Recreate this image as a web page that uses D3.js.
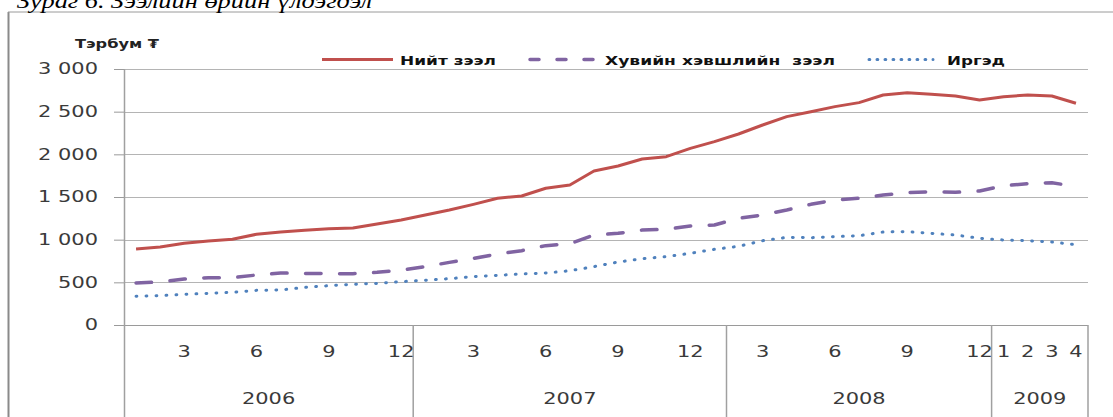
<!DOCTYPE html>
<html>
<head>
<meta charset="utf-8">
<script src="https://cdn.jsdelivr.net/npm/d3@7"></script>
<style>
  html, body { margin: 0; padding: 0; background: #fff; }
  svg { display: block; }
  text { white-space: pre; }
</style>
</head>
<body>
<svg id="chart" width="1113" height="417"></svg>
<script>
// ---------------- DATA ----------------
const titleText = "Зураг 6. Зээлийн өрийн үлдэгдэл";
const unitLabel = "Тэрбум ₮";
const seriesNames = ["Нийт зээл", "Хувийн хэвшлийн  зээл", "Иргэд"];

// 40 monthly categories, Jan 2006 – Apr 2009
const monthLabels = [
  "", "", "3", "", "", "6", "", "", "9", "", "", "12",
  "", "", "3", "", "", "6", "", "", "9", "", "", "12",
  "", "", "3", "", "", "6", "", "", "9", "", "", "12",
  "1", "2", "3", "4"
];
const yearLabels = ["2006", "2007", "2008", "2009"];
const yearSpans = [12, 13, 11, 4];   // categories per year band as drawn

const totalLoans = [
  890, 914, 957, 984, 1004, 1063, 1090, 1110, 1129, 1137, 1184, 1231,
  1289, 1348, 1414, 1485, 1512, 1602, 1641, 1805, 1863, 1945, 1973, 2070,
  2149, 2238, 2344, 2442, 2500, 2559, 2606, 2695, 2723, 2703, 2684, 2637,
  2676, 2695, 2684, 2598
];
const privateLoans = [
  492, 504, 539, 555, 555, 586, 609, 605, 602, 602, 617, 644,
  684, 734, 781, 832, 871, 930, 953, 1055, 1074, 1113, 1121, 1160,
  1172, 1250, 1289, 1348, 1414, 1465, 1485, 1523, 1551, 1562, 1555, 1570,
  1633, 1656, 1668, 1621
];
const householdLoans = [
  336, 344, 359, 371, 383, 406, 410, 441, 461, 477, 488, 508,
  524, 543, 567, 582, 598, 609, 636, 684, 738, 777, 801, 840,
  887, 922, 988, 1027, 1023, 1035, 1047, 1090, 1094, 1074, 1055, 1016,
  996, 988, 973, 941
];
const yTicks = [0, 500, 1000, 1500, 2000, 2500, 3000];

// ---------------- CHART ----------------
const svg = d3.select("#chart");
const pLeft = 124, pRight = 1088, pTop = 69, pBottom = 325;
const fontFam = "'DejaVu Sans', Verdana, sans-serif";

function stretch(sel, k) {
  sel.each(function () {
    const w = this.getComputedTextLength();
    this.setAttribute("textLength", w * k);
    this.setAttribute("lengthAdjust", "spacingAndGlyphs");
  });
}

const x = d3.scaleBand().domain(d3.range(monthLabels.length)).range([pLeft, pRight]).padding(0);
const y = d3.scaleLinear().domain([0, 3000]).range([pBottom, pTop]);
const cx = i => x(i) + x.bandwidth() / 2;

// frame
svg.append("line").attr("x1", 8.5).attr("x2", 8.5).attr("y1", 12).attr("y2", 417)
  .attr("stroke", "#8a8a8a").attr("stroke-width", 2);
svg.append("line").attr("x1", 8).attr("x2", 1113).attr("y1", 12).attr("y2", 12)
  .attr("stroke", "#9a9a9a").attr("stroke-width", 1);

// title (cut off at the top)
svg.append("text").attr("x", 17).attr("y", 8)
  .attr("font-family", "'Liberation Serif', 'Times New Roman', serif")
  .attr("font-style", "italic").attr("font-size", 22).attr("fill", "#000")
  .text(titleText)
  .attr("textLength", 355).attr("lengthAdjust", "spacingAndGlyphs");

// gridlines
svg.append("g").selectAll("line").data(yTicks.filter(d => d > 0)).join("line")
  .attr("x1", pLeft).attr("x2", pRight)
  .attr("y1", d => Math.round(y(d)) + 0.5).attr("y2", d => Math.round(y(d)) + 0.5)
  .attr("stroke", "#b4b4b4").attr("stroke-width", 1);

// y axis
const yAxis = svg.append("g").attr("transform", `translate(${pLeft},0)`)
  .call(d3.axisLeft(y).tickValues(yTicks).tickSize(10).tickPadding(16)
    .tickFormat(d => d3.format(",")(d).replace(/,/g, " ")));
yAxis.select(".domain").remove();
yAxis.selectAll(".tick line").attr("stroke", "#9a9a9a");
yAxis.selectAll(".tick text").attr("font-family", fontFam).attr("font-size", 15.5)
  .attr("fill", "#3a3a3a").call(stretch, 1.35);

// x axis line (0 line) and vertical axis
svg.append("line").attr("x1", pLeft).attr("x2", pRight)
  .attr("y1", Math.round(y(0)) + 0.5).attr("y2", Math.round(y(0)) + 0.5)
  .attr("stroke", "#9a9a9a");
svg.append("line").attr("x1", pLeft + 0.5).attr("x2", pLeft + 0.5).attr("y1", pTop).attr("y2", 417)
  .attr("stroke", "#a0a0a0").attr("stroke-width", 1.5);

// year separators
let acc = 0;
const bounds = yearSpans.map(s => { acc += s; return acc; });
svg.append("g").selectAll("line").data(bounds).join("line")
  .attr("x1", d => x(d - 1) + x.bandwidth()).attr("x2", d => x(d - 1) + x.bandwidth())
  .attr("y1", y(0)).attr("y2", 417)
  .attr("stroke", "#a0a0a0").attr("stroke-width", 1.5);

// month labels
svg.append("g").selectAll("text").data(monthLabels).join("text")
  .attr("x", (d, i) => cx(i)).attr("y", 357).attr("text-anchor", "middle")
  .attr("font-family", fontFam).attr("font-size", 15.5).attr("fill", "#3a3a3a")
  .text(d => d)
  .filter(d => d !== "").call(stretch, 1.35);

// year labels
let start = 0;
const yearPos = yearSpans.map(s => { const a = start; start += s; return [a, start]; });
svg.append("g").selectAll("text").data(yearLabels).join("text")
  .attr("x", (d, i) => (x(yearPos[i][0]) + x(yearPos[i][1] - 1) + x.bandwidth()) / 2)
  .attr("y", 404).attr("text-anchor", "middle")
  .attr("font-family", fontFam).attr("font-size", 15.5).attr("fill", "#3a3a3a")
  .text(d => d).call(stretch, 1.35);

// series
const series = [
  { name: seriesNames[0], values: totalLoans, color: "#C0504D", width: 3, dash: null, legDash: null },
  { name: seriesNames[1], values: privateLoans, color: "#8064A2", width: 3.5, dash: "15.5,18.5", legDash: "9,18" },
  { name: seriesNames[2], values: householdLoans, color: "#4F81BD", width: 3, dash: "0.8,9.2", legDash: "0.8,7.2" }
];
const line = d3.line().x((d, i) => cx(i)).y(d => y(d));
svg.append("g").selectAll("path").data(series.slice().reverse()).join("path")
  .attr("d", d => line(d.values))
  .attr("fill", "none").attr("stroke", d => d.color).attr("stroke-width", d => d.width)
  .attr("stroke-linecap", d => d.dash ? "round" : "butt").attr("stroke-linejoin", "round")
  .attr("stroke-dasharray", d => d.dash);

// legend
const legendLayout = [
  { x1: 322, x2: 393, tx: 400, tw: 96 },
  { x1: 530, x2: 596, tx: 605, tw: 230 },
  { x1: 869, x2: 933, tx: 947, tw: 58 }
];
const lg = svg.append("g");
series.forEach((s, i) => {
  const L = legendLayout[i];
  lg.append("line").attr("x1", L.x1).attr("x2", L.x2).attr("y1", 59.5).attr("y2", 59.5)
    .attr("stroke", s.color).attr("stroke-width", s.width)
    .attr("stroke-linecap", s.legDash ? "round" : "butt")
    .attr("stroke-dasharray", s.legDash);
  lg.append("text").attr("x", L.tx).attr("y", 65)
    .attr("font-family", fontFam).attr("font-weight", "bold").attr("font-size", 13)
    .attr("fill", "#111").text(s.name)
    .attr("textLength", L.tw).attr("lengthAdjust", "spacingAndGlyphs");
});

// unit label
svg.append("text").attr("x", 75).attr("y", 48)
  .attr("font-family", fontFam).attr("font-weight", "bold").attr("font-size", 13)
  .attr("fill", "#222").text(unitLabel)
  .attr("textLength", 84).attr("lengthAdjust", "spacingAndGlyphs");
</script>
</body>
</html>
